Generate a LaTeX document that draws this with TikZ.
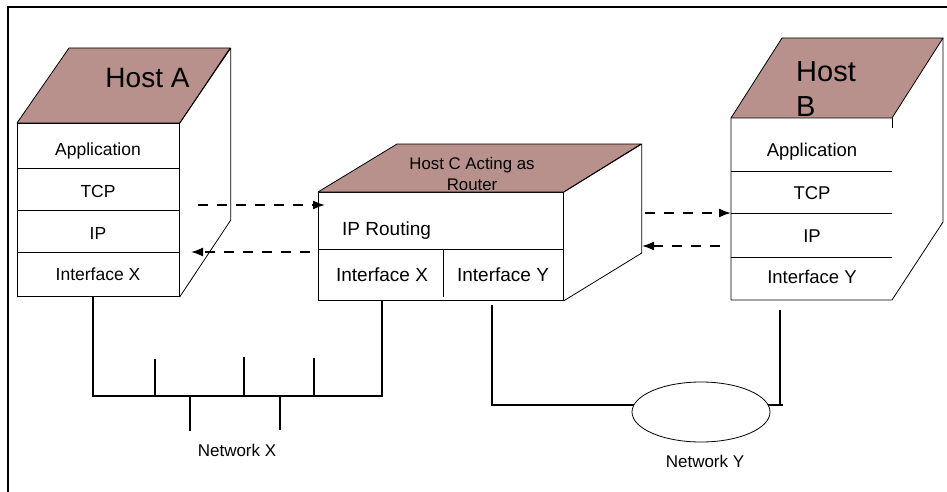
\documentclass[tikz,border=0pt]{standalone}
\usepackage{fontspec}
\setmainfont{Liberation Sans}
\usetikzlibrary{arrows.meta,shapes.geometric}
\definecolor{roof}{RGB}{184,145,140}
\begin{document}
\begin{tikzpicture}[x=1pt,y=-1pt,
  edge/.style={line width=0.8pt, line join=round},
  face/.style={draw, line width=0.8pt, fill=white, inner sep=0pt, anchor=north west},
  roofface/.style={draw, line width=0.8pt, fill=roof, line join=round},
  txt/.style={inner sep=0pt, anchor=base},
  net/.style={line width=2pt},
  darr/.style={line width=1.6pt, dash pattern=on 10pt off 9pt, -{Latex[length=12pt,width=9pt]}}
]
\useasboundingbox (0,0) rectangle (947,492);
\draw[line width=2pt] (8,492) -- (8,7) -- (947,7);

% ---------- Host A ----------
\node[face, minimum width=162pt, minimum height=173pt] (A) at (17,123) {};
\filldraw[roofface] (A.north west) -- ++(52,-75) -- ++(161,0) -- (A.north east) -- cycle;
\draw[edge] (A.north east) -- ++(51,-75) -- ++(0,172) -- (A.south east);
\draw[edge] (17,168) -- (179,168) (17,210) -- (179,210) (17,252) -- (179,252);
\node[txt, font=\fontsize{28}{32}\selectfont] (Atitle) at (147.5,88) {Host A};
\node[txt, font=\fontsize{17.5}{20}\selectfont] (Aapp) at (98,155) {Application};
\node[txt, font=\fontsize{17.5}{20}\selectfont] (Atcp) at (98,197) {TCP};
\node[txt, font=\fontsize{17.5}{20}\selectfont] (Aip) at (98,239) {IP};
\node[txt, font=\fontsize{17.5}{20}\selectfont] (Aif) at (98,280) {Interface X};

% ---------- Host C ----------
\node[face, minimum width=245pt, minimum height=108pt] (C) at (318,192) {};
\filldraw[roofface] (C.north west) -- ++(79,-48) -- ++(244,0) -- (C.north east) -- cycle;
\draw[edge] (C.north east) -- ++(78,-48) -- ++(0,109) -- (C.south east);
\draw[edge] (318,249) -- (563,249) (443,249) -- (443,297);
\node[txt, font=\fontsize{16.8}{20}\selectfont] (Ctitle1) at (472,169) {Host C Acting as};
\node[txt, font=\fontsize{16.8}{20}\selectfont] (Ctitle2) at (472,190) {Router};
\node[txt, anchor=base west, font=\fontsize{19}{22}\selectfont] (Crt) at (342,235) {IP Routing};
\node[txt, font=\fontsize{19}{22}\selectfont] (Cifx) at (382,281) {Interface X};
\node[txt, font=\fontsize{19}{22}\selectfont] (Cify) at (503,281) {Interface Y};

% ---------- Host B ----------
\coordinate (Bnw) at (731,118);
\coordinate (Bne) at (892,118);
\coordinate (Bsw) at (731,300);
\coordinate (Bse) at (892,300);
\filldraw[roofface] (Bnw) -- ++(51,-80) -- ++(161,0) -- (Bne) -- cycle;
\draw[edge] (Bnw) -- (Bsw) -- (Bse) -- ++(51,-78) -- (943,38);
\draw[edge] (Bne) -- ++(0,10);
\draw[edge] (731,171) -- (892,171) (731,213) -- (892,213) (731,257) -- (892,257);
\node[txt, anchor=base west, font=\fontsize{29}{34}\selectfont] (Btitle1) at (796,82) {Host};
\node[txt, anchor=base west, font=\fontsize{29}{34}\selectfont] (Btitle2) at (796,117) {B};
\node[txt, font=\fontsize{18.5}{22}\selectfont] (Bapp) at (812,156) {Application};
\node[txt, font=\fontsize{18.5}{22}\selectfont] (Btcp) at (812,199) {TCP};
\node[txt, font=\fontsize{18.5}{22}\selectfont] (Bip) at (812,242) {IP};
\node[txt, font=\fontsize{18.5}{22}\selectfont] (Bif) at (812,283) {Interface Y};

% ---------- dashed arrows ----------
\coordinate (ac1) at (198,205);
\coordinate (ac2) at (325,205);
\coordinate (ca1) at (310,252);
\coordinate (ca2) at (191,252);
\coordinate (cb1) at (645,213);
\coordinate (cb2) at (731,213);
\coordinate (bc1) at (720,246);
\coordinate (bc2) at (642,246);
\draw[darr] (ac1) -- (ac2);
\draw[darr] (ca1) -- (ca2);
\draw[darr] (cb1) -- (cb2);
\draw[darr] (bc1) -- (bc2);

% ---------- Network X ----------
\coordinate (xl) at (93,396);
\coordinate (xr) at (383,396);
\draw[net] (A.south -| xl) -- (xl) -- (xr |- xl);
\draw[net] (382,300) -- (382,396);
\draw[net] (155,359) -- (155,396) (244,357) -- (244,396) (314,358) -- (314,396);
\draw[net] (190,396) -- (190,431) (280,396) -- (280,430);
\node[txt, font=\fontsize{17}{20}\selectfont] (netX) at (237,456) {Network X};

% ---------- Network Y ----------
\node[draw, line width=0.8pt, ellipse, minimum width=138pt, minimum height=60pt, inner sep=0pt] (ellY) at (701,412) {};
\draw[net] (492,305) -- (492,405) -- (634,405);
\draw[net] (768,405) -- (783,405);
\draw[net] (780,310) -- (780,405);
\node[txt, font=\fontsize{17}{20}\selectfont] (netY) at (705,467) {Network Y};
\end{tikzpicture}
\end{document}
